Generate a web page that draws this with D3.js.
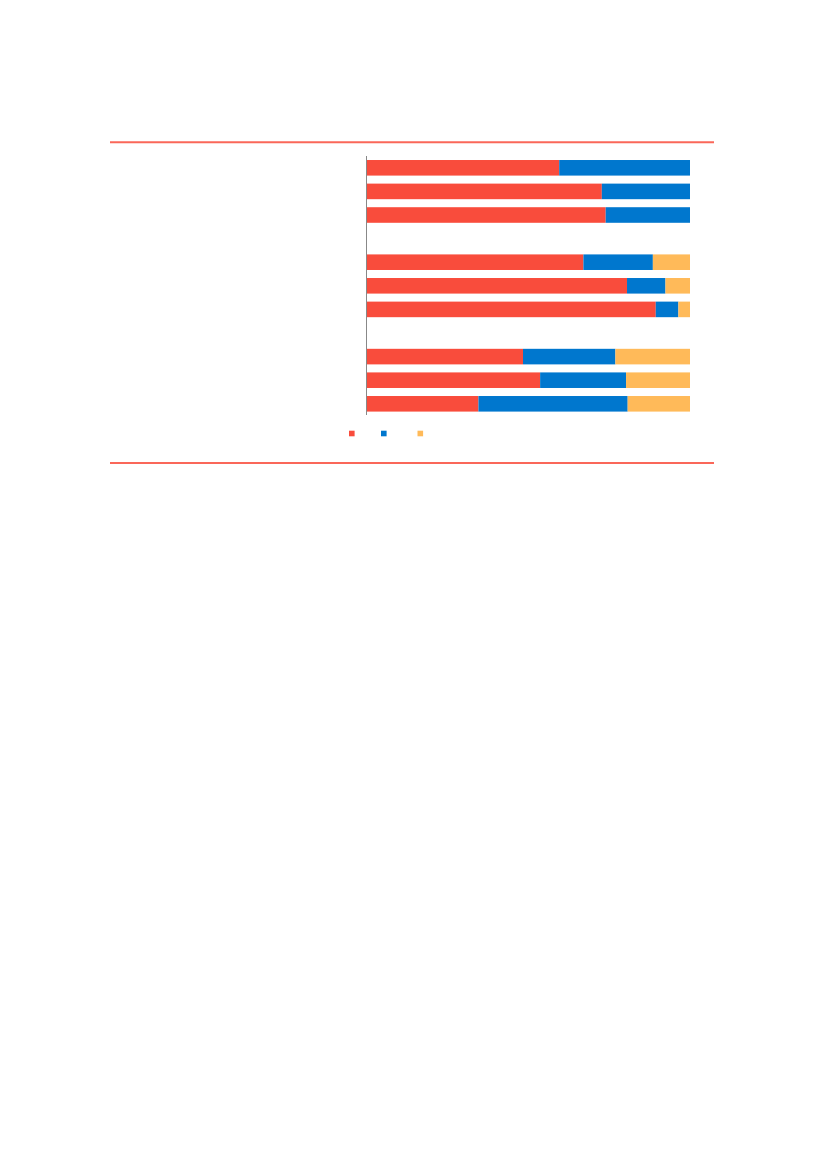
<!DOCTYPE html>
<html>
<head>
<meta charset="utf-8">
<script src="https://cdn.jsdelivr.net/npm/d3@7"></script>
<style>
  body { margin: 0; background: #fff; }
  svg { display: block; }
</style>
</head>
<body>
<div id="chart"></div>
<script>
// rows top to bottom; "gap" rows are empty spacers between groups
const rows = ["A1", "A2", "A3", "gap1", "B1", "B2", "B3", "gap2", "C1", "C2", "C3"];
const seriesNames = ["s1", "s2", "s3"];
const seriesColors = ["#F94C3C", "#0077CE", "#FFBA59"];

// shares in percent, per row
const s1Values = [59.5, 72.7, 73.9, null, 67.0, 80.5, 89.4, null, 48.3, 53.6, 34.5];
const s2Values = [40.5, 27.3, 26.1, null, 21.5, 11.9, 7.0, null, 28.6, 26.6, 46.2];
const s3Values = [0, 0, 0, null, 11.5, 7.6, 3.6, null, 23.1, 19.8, 19.3];

const W = 827, H = 1169;

const svg = d3.select("#chart")
  .append("svg")
  .attr("width", W)
  .attr("height", H);

// red rules above and below the chart
svg.append("line")
  .attr("x1", 110).attr("x2", 714)
  .attr("y1", 142.3).attr("y2", 142.3)
  .attr("stroke", "#F94C3C").attr("stroke-opacity", 0.85)
  .attr("stroke-width", 2);

svg.append("line")
  .attr("x1", 110).attr("x2", 714)
  .attr("y1", 463).attr("y2", 463)
  .attr("stroke", "#F94C3C").attr("stroke-opacity", 0.85)
  .attr("stroke-width", 2);

const x = d3.scaleLinear()
  .domain([0, 100])
  .range([367, 690]);

const y = d3.scaleBand()
  .domain(rows)
  .range([156, 415.6])
  .paddingInner(0.34)
  .paddingOuter(0.17);

const color = d3.scaleOrdinal()
  .domain(seriesNames)
  .range(seriesColors);

const table = rows.map((r, i) => ({
  row: r, s1: s1Values[i], s2: s2Values[i], s3: s3Values[i]
})).filter(d => d.s1 !== null);

const stacked = d3.stack().keys(seriesNames)(table);

svg.append("g")
  .selectAll("g")
  .data(stacked)
  .join("g")
  .attr("fill", d => color(d.key))
  .selectAll("rect")
  .data(d => d)
  .join("rect")
  .attr("x", d => x(d[0]))
  .attr("y", d => y(d.data.row))
  .attr("width", d => Math.max(0, x(d[1]) - x(d[0])))
  .attr("height", y.bandwidth());

// vertical axis line
svg.append("line")
  .attr("x1", x(0) - 0.5).attr("x2", x(0) - 0.5)
  .attr("y1", 156).attr("y2", 415)
  .attr("stroke", "#888").attr("stroke-width", 1);

// legend swatches (labels not legible in the reference)
const legendX = [349, 381, 417.5];
svg.append("g")
  .selectAll("rect")
  .data(seriesNames)
  .join("rect")
  .attr("x", (d, i) => legendX[i])
  .attr("y", 430.7)
  .attr("width", 5.6)
  .attr("height", 5.6)
  .attr("fill", d => color(d));
</script>
</body>
</html>
